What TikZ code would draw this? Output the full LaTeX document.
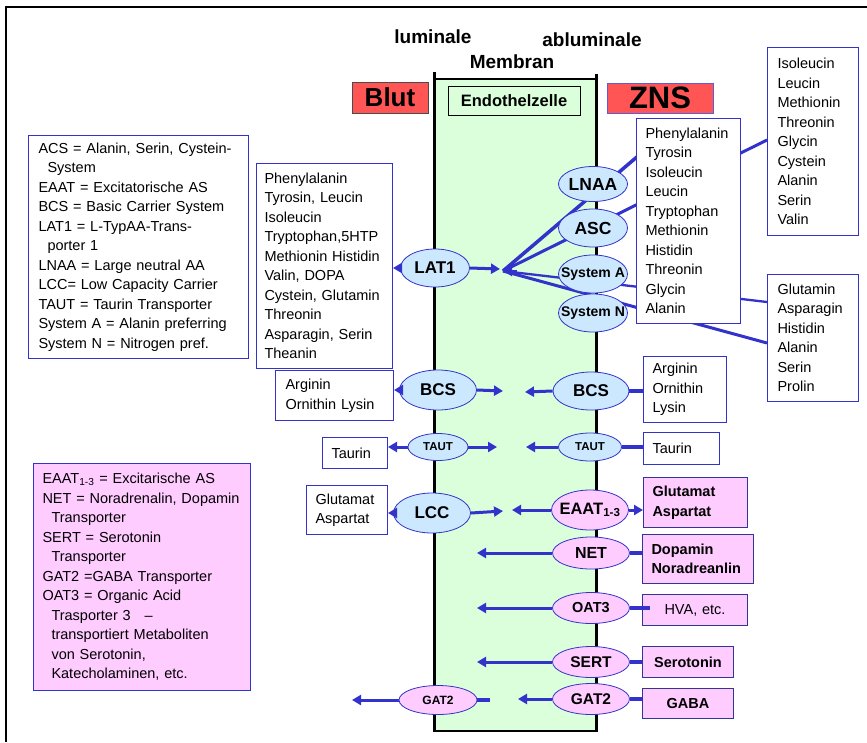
\documentclass[tikz,border=0pt]{standalone}
\usepackage{fontspec}
\setmainfont{Liberation Sans}
\usetikzlibrary{shapes.geometric,arrows.meta,calc}
\definecolor{tblue}{RGB}{51,51,204}
\definecolor{eblue}{RGB}{204,232,255}
\definecolor{epink}{RGB}{255,204,255}
\definecolor{mgreen}{RGB}{218,255,218}
\definecolor{hred}{RGB}{255,85,85}
\definecolor{bnavy}{RGB}{51,51,153}
\begin{document}
\begin{tikzpicture}[x=1pt,y=-1pt,
  ell/.style={ellipse, draw=tblue, line width=0.8pt, inner sep=0pt},
  eb/.style={ell, fill=eblue},
  ep/.style={ell, fill=epink},
  et/.style={font=\bfseries\fontsize{#1}{#1}\selectfont, inner sep=0pt},
  tx/.style={font=\fontsize{14.5}{19.5}\selectfont},
  wbox/.style={draw=tblue, line width=1pt, fill=white, anchor=north west, align=left, inner ysep=0pt, tx},
  pbox/.style={draw=bnavy, line width=1pt, fill=epink, anchor=north west, align=left, inner ysep=0pt, tx},
  head/.style={font=\bfseries\fontsize{19}{19}\selectfont, inner sep=0pt},
  arr/.style={draw=tblue, line width=3pt, -{Triangle[length=9pt,width=10pt]}},
  conn/.style={draw=tblue, line width=3.5pt},
  fanl/.style={draw=tblue, line width=#1},
]
\path[use as bounding box] (0,0) rectangle (867,742);
% outer frame
\draw[line width=2pt] (867,7) -- (6,7) -- (6,742);
% membrane column
\fill[mgreen] (434,79) rectangle (596,731);
\draw[line width=1.2pt] (434,79) -- (596,79);
\draw[line width=2.5pt] (434,731) -- (596,731);
\draw[line width=3pt] (434,72) -- (434,732);
\draw[line width=3pt] (596,74) -- (596,732);
% headings
\node[head] (lum) at (433,37) {luminale};
\node[head] (ablum) at (592,40) {abluminale};
\node[head] (membr) at (512,62) {Membran};
\node[draw=black!70, line width=1pt, fill=hred, minimum width=76pt, minimum height=31pt, inner sep=0pt, font=\bfseries\fontsize{26}{26}\selectfont] (blut) at (390,97.5) {Blut};
\node[draw=tblue!80, line width=1pt, fill=hred, minimum width=106pt, minimum height=30pt, inner sep=0pt, font=\bfseries\fontsize{31}{31}\selectfont] (zns) at (660,98) {ZNS};
\node[draw=black, line width=1pt, fill=mgreen, minimum width=132pt, minimum height=29pt, inner sep=0pt, font=\bfseries\fontsize{16.5}{16.5}\selectfont] (endo) at (514,100.5) {Endothelzelle};
% fan lines (behind nodes)
\coordinate (fan) at (503,271);
\coordinate (fanR) at (517,271);
\coordinate (lnaaEnd) at (638,156);
\coordinate (ascEnd) at (767,140);
\coordinate (sysaEnd) at (767,302);
\coordinate (sysnEnd) at (767,343);
\draw[fanl=3.5pt] (fan) -- (lnaaEnd);
\draw[fanl=3pt] (fan) -- (ascEnd);
\draw[fanl=2.3pt] (fan) -- (sysaEnd);
\draw[fanl=3pt] (fan) -- (sysnEnd);
% ellipses
\node[eb, minimum width=69pt, minimum height=38pt] (lat1) at (435,268) {};
\node[et=17] (lat1T) at (lat1) {LAT1};
\node[eb, minimum width=69pt, minimum height=35pt] (lnaa) at (593,184) {};
\node[et=17.5] (lnaaT) at (lnaa) {LNAA};
\node[eb, minimum width=69pt, minimum height=38pt] (asc) at (593,228) {};
\node[et=17.5] (ascT) at (asc) {ASC};
\node[eb, minimum width=69pt, minimum height=38pt] (sysa) at (593,274) {};
\node[et=14] (sysaT) at (sysa) {System A};
\node[eb, minimum width=69pt, minimum height=38pt] (sysn) at (593,313) {};
\node[et=14] (sysnT) at (sysn) {System N};
\node[eb, minimum width=77pt, minimum height=40pt] (bcsL) at (438,390) {};
\node[et=17] (bcsLT) at (bcsL) {BCS};
\node[eb, minimum width=76pt, minimum height=38pt] (bcsR) at (591,391) {};
\node[et=17] (bcsRT) at (bcsR) {BCS};
\node[eb, minimum width=60pt, minimum height=27pt] (tautL) at (438,447) {};
\node[et=11.5] (tautLT) at (tautL) {TAUT};
\node[eb, minimum width=63pt, minimum height=28pt] (tautR) at (590,447) {};
\node[et=11.5] (tautRT) at (tautR) {TAUT};
\node[eb, minimum width=77pt, minimum height=40pt] (lcc) at (432,513) {};
\node[et=17] (lccT) at (lcc) {LCC};
\node[ep, minimum width=77pt, minimum height=40pt] (eaat) at (590,510) {};
\node[et=16.5] (eaatT) at (eaat) {EAAT\textsubscript{1-3}};
\node[ep, minimum width=77pt, minimum height=32pt] (net) at (591,553) {};
\node[et=16] (netT) at (net) {NET};
\node[ep, minimum width=77pt, minimum height=31pt] (oat3) at (591,608) {};
\node[et=14.5] (oat3T) at (oat3) {OAT3};
\node[ep, minimum width=77pt, minimum height=31pt] (sert) at (591,662) {};
\node[et=15.5] (sertT) at (sert) {SERT};
\node[ep, minimum width=77pt, minimum height=31pt] (gat2R) at (591,699) {};
\node[et=15.5] (gat2RT) at (gat2R) {GAT2};
\node[ep, minimum width=78pt, minimum height=29pt] (gat2L) at (438,700) {};
\node[et=12] (gat2LT) at (gat2L) {GAT2};
% legend boxes
\node[wbox, inner xsep=10pt, text width=200pt, minimum height=223pt] (leg1) at (28,135) {ACS = Alanin, Serin, Cystein-\\\hspace*{9pt}System\\EAAT = Excitatorische AS\\BCS = Basic Carrier System\\LAT1 = L-TypAA-Trans-\\\hspace*{9pt}porter 1\\LNAA = Large neutral AA\\LCC= Low Capacity Carrier\\TAUT = Taurin Transporter\\System A = Alanin preferring\\System N = Nitrogen pref.};
\node[pbox, draw=tblue, inner xsep=9pt, text width=199pt, minimum height=227pt] (leg2) at (33,463) {EAAT\textsubscript{1-3} = Excitarische AS\\NET = Noradrenalin, Dopamin\\\hspace*{9pt}Transporter\\SERT = Serotonin\\\hspace*{9pt}Transporter\\GAT2 =GABA Transporter\\OAT3 = Organic Acid\\\hspace*{9pt}Trasporter 3\hspace{14pt}–\\\hspace*{9pt}transportiert Metaboliten\\\hspace*{9pt}von Serotonin,\\\hspace*{9pt}Katecholaminen, etc.};
% left lists
\node[wbox, inner xsep=8pt, text width=120pt, minimum height=205pt] (lat1list) at (256,163) {Phenylalanin\\Tyrosin, Leucin\\Isoleucin\\Tryptophan,5HTP\\Methionin Histidin\\Valin, DOPA\\Cystein, Glutamin\\Threonin\\Asparagin, Serin\\Theanin};
\node[wbox, inner xsep=10pt, text width=98pt, minimum height=50pt] (bcsLbox) at (275,370) {Arginin\\Ornithin Lysin};
\node[wbox, inner xsep=9pt, text width=47pt, minimum height=31pt] (tautLbox) at (322,437) {Taurin};
\node[wbox, inner xsep=9pt, text width=63pt, minimum height=49pt] (lccbox) at (306,485) {Glutamat\\Aspartat};
% right lists
\node[wbox, inner xsep=9pt, text width=86pt, minimum height=205pt] (phenbox) at (636,118) {Phenylalanin\\Tyrosin\\Isoleucin\\Leucin\\Tryptophan\\Methionin\\Histidin\\Threonin\\Glycin\\Alanin};
\node[wbox, inner xsep=10pt, text width=71pt, minimum height=188pt] (isobox) at (767,47) {Isoleucin\\Leucin\\Methionin\\Threonin\\Glycin\\Cystein\\Alanin\\Serin\\Valin};
\node[wbox, inner xsep=10pt, text width=71pt, minimum height=127pt] (glnbox) at (767,274) {Glutamin\\Asparagin\\Histidin\\Alanin\\Serin\\Prolin};
\node[wbox, inner xsep=9pt, text width=65pt, minimum height=66pt] (bcsRbox) at (643,356) {Arginin\\Ornithin\\Lysin};
\node[wbox, inner xsep=9pt, text width=58pt, minimum height=32pt] (tautRbox) at (643,432) {Taurin};
\node[pbox, inner xsep=9pt, text width=86pt, minimum height=50pt, font=\bfseries\fontsize{14.5}{19.5}\selectfont] (glubox) at (643,477) {Glutamat\\Aspartat};
\node[pbox, inner xsep=9pt, text width=93pt, minimum height=49pt, font=\bfseries\fontsize{14.5}{19.5}\selectfont] (dopbox) at (642,534) {Dopamin\\Noradreanlin};
\node[pbox, inner xsep=9pt, text width=87pt, minimum height=31pt, align=center] (hvabox) at (642,594) {HVA, etc.};
\node[pbox, inner xsep=9pt, text width=73pt, minimum height=31pt, align=center, font=\bfseries\fontsize{14.5}{19.5}\selectfont] (serbox) at (642,646) {Serotonin};
\node[pbox, inner xsep=9pt, text width=73pt, minimum height=30pt, align=center, font=\bfseries\fontsize{14.5}{19.5}\selectfont] (gababox) at (642,688) {GABA};
% free ends inside the column
\coordinate (lat1in) at (500,269);
\coordinate (bcsLin) at (503,391);
\coordinate (bcsRin) at (525,392);
\coordinate (tautLin) at (497,447);
\coordinate (tautRin) at (526,447);
\coordinate (lccin) at (503,511);
\coordinate (eaatin) at (512,510);
\coordinate (netin) at (477,553);
\coordinate (oat3in) at (477,608);
\coordinate (sertin) at (477,662);
\coordinate (gat2Rin) at (518,699);
\coordinate (gat2Lout) at (352,700);
\coordinate (gat2Lend) at (490,700);
% arrows
\draw[arr] (lat1.west) -- (lat1.west -| lat1list.east);
\draw[arr] (lat1.east) -- (lat1in);
\draw[arr] (fanR) -- (fan);
\draw[arr] (bcsL.west) -- (bcsL.west -| bcsLbox.east);
\draw[arr] (bcsL.east) -- (bcsLin);
\draw[arr] (bcsR.west) -- (bcsRin);
\draw[conn] (bcsR.east) -- (bcsR.east -| bcsRbox.west);
\draw[arr] (tautL.west) -- (tautL.west -| tautLbox.east);
\draw[arr] (tautL.east) -- (tautLin);
\draw[arr] (tautR.west) -- (tautRin);
\draw[conn] (tautR.east) -- (tautR.east -| tautRbox.west);
\draw[arr] (lcc.west) -- (lcc.west -| lccbox.east);
\draw[arr] (lcc.east) -- (lccin);
\draw[arr] (eaat.west) -- (eaatin);
\draw[arr] (eaat.east) -- (eaat.east -| glubox.west);
\draw[arr] (net.west) -- (netin);
\draw[conn] (net.east) -- (net.east -| dopbox.west);
\draw[arr] (oat3.west) -- (oat3in);
\draw[conn] (oat3.east) -- ($(oat3.east -| hvabox.west)+(8,0)$);
\draw[arr] (sert.west) -- (sertin);
\draw[conn] (sert.east) -- (sert.east -| serbox.west);
\draw[arr] (gat2R.west) -- (gat2Rin);
\draw[conn] (gat2R.east) -- (gat2R.east -| gababox.west);
\draw[arr] (gat2L.west) -- (gat2Lout);
\draw[conn] (gat2L.east) -- (gat2Lend);
\end{tikzpicture}
\end{document}
